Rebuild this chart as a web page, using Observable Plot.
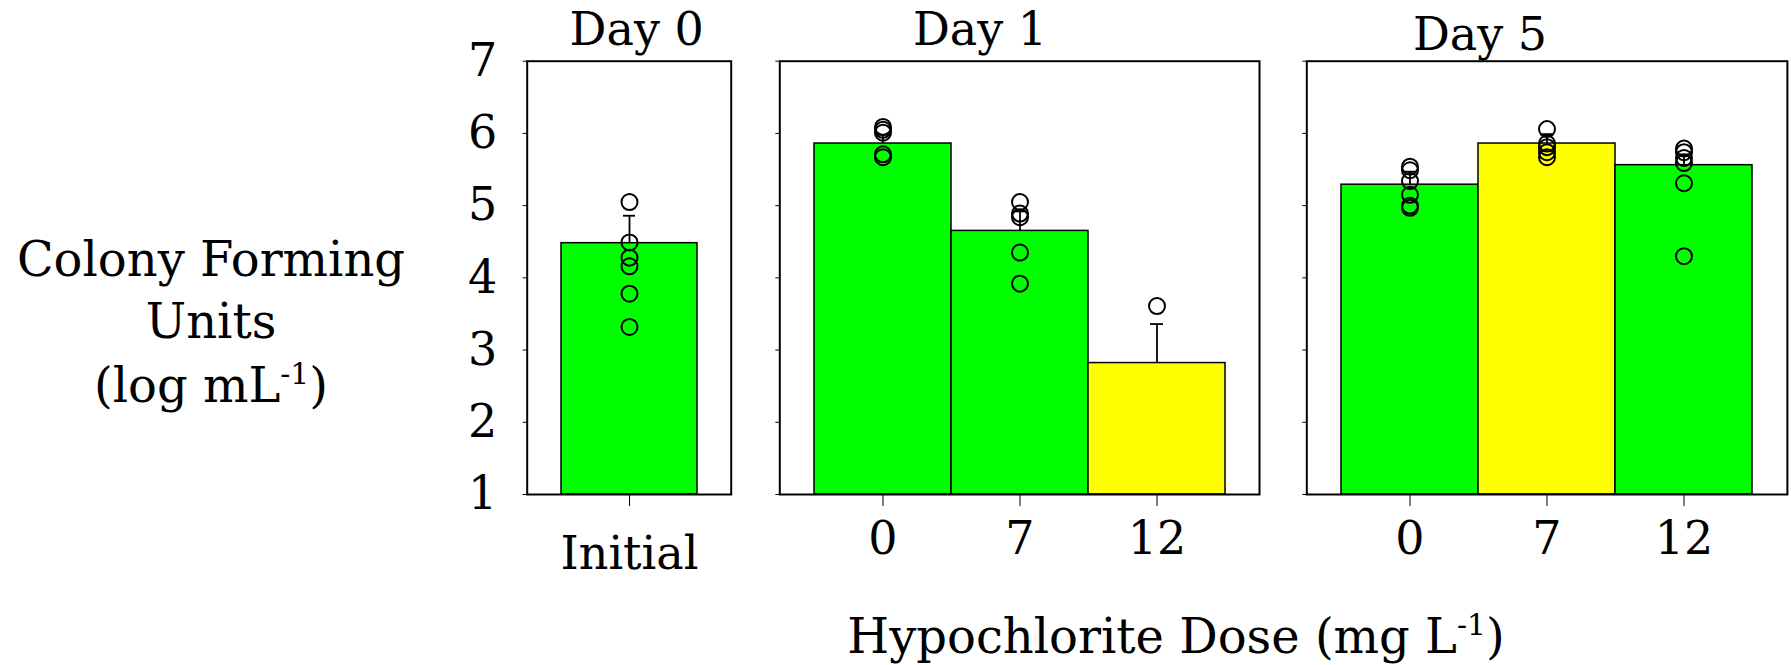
<!DOCTYPE html>
<html>
<head>
<meta charset="utf-8">
<script src="https://cdn.jsdelivr.net/npm/d3@7"></script>
<script src="https://cdn.jsdelivr.net/npm/@observablehq/plot@0.6"></script>
<style>
  html, body { margin: 0; padding: 0; background: #fff; }
  #chart { position: relative; width: 1791px; height: 665px; overflow: hidden; font-family: "DejaVu Serif", serif; }
  #chart > svg, #chart > figure { position: absolute; top: 0; margin: 0; }
  .lbl { font-family: "DejaVu Serif", serif; fill: #000; }
</style>
</head>
<body>
<div id="chart"></div>
<script>
// Colony forming units (log mL^-1) after hypochlorite dosing
const yDomain = [1, 7];
const yTicks = [1, 2, 3, 4, 5, 6, 7];

const day0Doses = ["Initial"];
const day0Means = [4.48];
const day0Upper = [4.86];
const day0Flag = [false];
const day0Points = [[5.05, 4.49, 4.28, 4.16, 3.78, 3.32]];

const doseLabels = ["0", "7", "12"];

const day1Means = [5.86, 4.65, 2.82];
const day1Upper = [5.98, 4.92, 3.36];
const day1Flag = [false, false, true];
const day1Points = [
  [6.09, 6.05, 6.01, 5.71, 5.67],
  [5.05, 4.89, 4.84, 4.35, 3.92],
  [3.61]
];

const day5Means = [5.29, 5.86, 5.56];
const day5Upper = [5.47, 5.99, 5.71];
const day5Flag = [false, true, false];
const day5Points = [
  [5.54, 5.49, 5.34, 5.15, 5.00, 4.97],
  [6.06, 5.86, 5.81, 5.74, 5.67],
  [5.79, 5.74, 5.66, 5.59, 5.31, 4.30]
];

const panelTitles = ["Day 0", "Day 1", "Day 5"];

function rowsOf(doses, means, upper, flags) {
  return doses.map((dose, i) => ({dose, mean: means[i], upper: upper[i], flag: flags[i], base: yDomain[0]}));
}
function pointsOf(doses, points) {
  return doses.flatMap((dose, i) => points[i].map((value) => ({dose, value})));
}

function panel({doses, means, upper, flags, points, left, width, marginLeft, marginRight, showY, xPad}) {
  const rows = rowsOf(doses, means, upper, flags);
  const pts = pointsOf(doses, points);
  const p = Plot.plot({
    width, height: 600,
    marginLeft, marginRight, marginTop: 60.7, marginBottom: 106,
    style: {fontFamily: "DejaVu Serif, serif", fontSize: "46px", background: "transparent", overflow: "visible", maxWidth: "none", color: "#000"},
    x: {type: "band", domain: doses, paddingInner: 0, paddingOuter: 0.25, label: null, tickSize: 12, tickPadding: xPad},
    y: {domain: yDomain, ticks: yTicks, label: null, tickSize: 4, tickPadding: 26, tickFormat: showY ? (d) => String(d) : () => ""},
    color: {type: "ordinal", domain: [false, true], range: ["#00ff00", "#ffff00"]},
    marks: [
      Plot.barY(rows, {x: "dose", y1: "base", y2: "mean", fill: "flag", stroke: "#000", strokeWidth: 1.5, inset: 0}),
      Plot.ruleX(rows, {x: "dose", y1: "mean", y2: "upper", stroke: "#000", strokeWidth: 1.8}),
      Plot.tickY(rows, {x: "dose", y: "upper", stroke: "#000", strokeWidth: 1.8, insetLeft: 62, insetRight: 62}),
      Plot.dot(pts, {x: "dose", y: "value", r: 8, stroke: "#000", strokeWidth: 2, fill: "none"}),
      Plot.frame({stroke: "#000", strokeWidth: 2})
    ]
  });
  p.style.left = left + "px";
  return p;
}

const chart = document.getElementById("chart");
chart.append(
  panel({doses: day0Doses, means: day0Means, upper: day0Upper, flags: day0Flag, points: day0Points,
         left: 420, width: 330, marginLeft: 106.7, marginRight: 19.3, showY: true, xPad: 30}),
  panel({doses: doseLabels, means: day1Means, upper: day1Upper, flags: day1Flag, points: day1Points,
         left: 760, width: 519, marginLeft: 19.3, marginRight: 20, showY: false, xPad: 15}),
  panel({doses: doseLabels, means: day5Means, upper: day5Upper, flags: day5Flag, points: day5Points,
         left: 1287.4, width: 502.9, marginLeft: 19.3, marginRight: 3, showY: false, xPad: 15})
);

// Panel titles and axis titles
const ns = "http://www.w3.org/2000/svg";
const overlay = document.createElementNS(ns, "svg");
overlay.setAttribute("width", 1791);
overlay.setAttribute("height", 665);
overlay.style.left = "0px";
overlay.style.pointerEvents = "none";
function addText(x, y, size, parts) {
  const t = document.createElementNS(ns, "text");
  t.setAttribute("class", "lbl");
  t.setAttribute("x", x);
  t.setAttribute("y", y);
  t.setAttribute("text-anchor", "middle");
  t.setAttribute("font-size", size);
  for (const [s, sup] of parts) {
    const ts = document.createElementNS(ns, "tspan");
    ts.textContent = s;
    if (sup) { ts.setAttribute("font-size", size * 0.62); ts.setAttribute("dy", -size * 0.38); }
    else if (t.childNodes.length && t.lastChild.getAttribute("dy")) { ts.setAttribute("dy", size * 0.38); }
    t.appendChild(ts);
  }
  overlay.appendChild(t);
}
addText(636.7, 45, 46, [[panelTitles[0]]]);
addText(980, 45, 46, [[panelTitles[1]]]);
addText(1480, 50, 46, [[panelTitles[2]]]);
addText(211, 276, 48, [["Colony Forming"]]);
addText(211, 338, 48, [["Units"]]);
addText(211, 402, 48, [["(log mL"], ["-1", true], [")"]]);
addText(1176, 653, 48, [["Hypochlorite Dose (mg L"], ["-1", true], [")"]]);
chart.appendChild(overlay);
</script>
</body>
</html>
